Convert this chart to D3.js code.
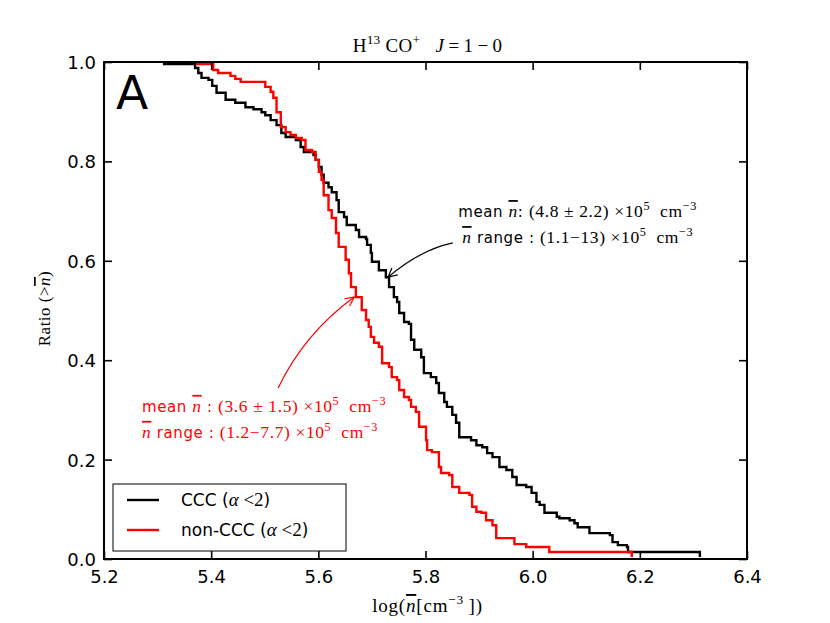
<!DOCTYPE html>
<html>
<head>
<meta charset="utf-8">
<script src="https://cdn.jsdelivr.net/npm/d3@7"></script>
<style>
  body { margin: 0; background: #fff; }
  svg { display: block; }
</style>
</head>
<body>
<div id="chart"></div>
<script>
// step vertices: log(n) where the curve drops, ratio after the drop
const cccX = [5.310, 5.370, 5.376, 5.382, 5.395, 5.402, 5.410, 5.427, 5.445, 5.464, 5.479, 5.494, 5.501, 5.511, 5.522,
    5.531, 5.539, 5.558, 5.567, 5.573, 5.591, 5.595, 5.601, 5.606, 5.610, 5.619, 5.625, 5.634, 5.638, 5.648, 5.653,
    5.670, 5.676, 5.689, 5.691, 5.698, 5.700, 5.713, 5.726, 5.732, 5.741, 5.747, 5.751, 5.760, 5.769, 5.773, 5.779,
    5.792, 5.797, 5.810, 5.820, 5.825, 5.835, 5.840, 5.850, 5.857, 5.863, 5.885, 5.895, 5.906, 5.915, 5.925, 5.938,
    5.951, 5.962, 5.970, 5.988, 5.998, 6.007, 6.013, 6.022, 6.045, 6.050, 6.069, 6.078, 6.084, 6.106, 6.144, 6.149,
    6.159, 6.176, 6.178, 6.312];
const cccY = [0.996, 0.988, 0.978, 0.968, 0.964, 0.952, 0.938, 0.924, 0.918, 0.909, 0.905, 0.899, 0.893, 0.883, 0.873,
    0.857, 0.849, 0.843, 0.829, 0.819, 0.813, 0.803, 0.789, 0.773, 0.757, 0.748, 0.738, 0.722, 0.698, 0.688, 0.672,
    0.662, 0.648, 0.644, 0.632, 0.616, 0.598, 0.581, 0.567, 0.547, 0.527, 0.517, 0.495, 0.477, 0.473, 0.441, 0.421,
    0.406, 0.374, 0.366, 0.354, 0.334, 0.316, 0.306, 0.290, 0.274, 0.245, 0.239, 0.229, 0.225, 0.213, 0.205, 0.185,
    0.179, 0.165, 0.149, 0.145, 0.133, 0.115, 0.109, 0.093, 0.085, 0.082, 0.078, 0.072, 0.064, 0.052, 0.048, 0.034,
    0.028, 0.024, 0.014, 0.004];

const nonX = [5.372, 5.404, 5.413, 5.436, 5.445, 5.455, 5.501, 5.511, 5.516, 5.522, 5.530, 5.539, 5.548, 5.558, 5.569,
    5.576, 5.588, 5.595, 5.601, 5.606, 5.610, 5.619, 5.625, 5.633, 5.638, 5.651, 5.657, 5.661, 5.670, 5.681, 5.689,
    5.694, 5.698, 5.704, 5.713, 5.719, 5.732, 5.737, 5.747, 5.751, 5.760, 5.769, 5.773, 5.782, 5.788, 5.801, 5.803,
    5.812, 5.825, 5.829, 5.844, 5.850, 5.863, 5.882, 5.887, 5.895, 5.904, 5.913, 5.925, 5.932, 5.966, 5.988, 6.031,
    6.185];
const nonY = [0.996, 0.984, 0.978, 0.972, 0.966, 0.960, 0.950, 0.940, 0.928, 0.899, 0.869, 0.859, 0.853, 0.847, 0.843,
    0.823, 0.819, 0.803, 0.779, 0.763, 0.732, 0.702, 0.686, 0.656, 0.628, 0.602, 0.575, 0.547, 0.527, 0.501, 0.481,
    0.467, 0.447, 0.435, 0.427, 0.394, 0.386, 0.366, 0.360, 0.340, 0.326, 0.320, 0.306, 0.296, 0.266, 0.239, 0.219,
    0.215, 0.185, 0.173, 0.169, 0.145, 0.133, 0.129, 0.105, 0.095, 0.093, 0.078, 0.068, 0.042, 0.030, 0.024, 0.014,
    0.004];

const xTicks = [5.2, 5.4, 5.6, 5.8, 6.0, 6.2, 6.4];
const yTicks = [0.0, 0.2, 0.4, 0.6, 0.8, 1.0];
const legendLabels = ["CCC", "non-CCC"];
const colors = ["#000000", "#ff0000"];

const W = 830, H = 623;
const margin = {top: 62, right: 83, bottom: 64, left: 104};
const width = W - margin.left - margin.right;
const height = H - margin.top - margin.bottom;

const SANS = "'DejaVu Sans', sans-serif";
const SERIF = "'Liberation Serif', 'DejaVu Serif', serif";

const svg = d3.select("#chart").append("svg")
    .attr("width", W)
    .attr("height", H);

const defs = svg.append("defs");
colors.forEach(function (c, i) {
    defs.append("marker")
        .attr("id", "arrow" + i)
        .attr("viewBox", "-10 -6 12 12")
        .attr("refX", 0).attr("refY", 0)
        .attr("markerWidth", 12).attr("markerHeight", 12)
        .attr("markerUnits", "userSpaceOnUse")
        .attr("orient", "auto")
        .append("path")
        .attr("d", "M-9,-4.5 L0,0 L-9,4.5")
        .attr("fill", "none")
        .attr("stroke", c)
        .attr("stroke-width", 1.2);
});

const g = svg.append("g")
    .attr("transform", "translate(" + margin.left + "," + margin.top + ")");

const x = d3.scaleLinear().domain([5.2, 6.4]).range([0, width]);
const y = d3.scaleLinear().domain([0, 1]).range([height, 0]);

// rich text: parts = [text, opts] ; opts: serif, it, sup, ol
// serif (math) parts get a slightly larger size, like mathtext does
function richText(sel, parts, size, mathSize) {
    let shift = 0;
    mathSize = mathSize || size;
    sel.style("white-space", "pre");
    parts.forEach(function (p) {
        const o = p[1] || {};
        const base = o.serif ? mathSize : size;
        const t = sel.append("tspan").text(p[0]);
        t.style("font-family", o.serif ? SERIF : SANS)
            .style("font-size", (o.sup ? base * 0.7 : base) + "px");
        if (o.it) t.style("font-style", "italic");
        if (o.ol) t.style("text-decoration", "overline");
        const want = o.sup ? -base * 0.42 : 0;
        if (want !== shift) {
            t.attr("dy", want - shift);
            shift = want;
        }
    });
}

// step curves
const line = d3.line()
    .x(d => x(d[0]))
    .y(d => y(d[1]))
    .curve(d3.curveStepAfter);

const series = [d3.zip(cccX, cccY), d3.zip(nonX, nonY)];
series.forEach(function (s, i) {
    g.append("path")
        .datum(s)
        .attr("fill", "none")
        .attr("stroke", colors[i])
        .attr("stroke-width", 2.4)
        .attr("d", line);
});

// axes with inward ticks on all sides
g.append("g")
    .attr("transform", "translate(0," + height + ")")
    .call(d3.axisBottom(x).tickValues(xTicks).tickFormat(d3.format(".1f"))
        .tickSizeInner(-8).tickSizeOuter(0).tickPadding(11));
g.append("g")
    .call(d3.axisTop(x).tickValues(xTicks).tickFormat("").tickSizeInner(-8).tickSizeOuter(0));
const yAxis = g.append("g")
    .call(d3.axisLeft(y).tickValues(yTicks).tickFormat(d3.format(".1f"))
        .tickSizeInner(-8).tickSizeOuter(0).tickPadding(8));
g.append("g")
    .attr("transform", "translate(" + width + ",0)")
    .call(d3.axisRight(y).tickValues(yTicks).tickFormat("").tickSizeInner(-8).tickSizeOuter(0));

g.selectAll(".domain").remove();
g.selectAll(".tick line").attr("stroke", "#000").attr("stroke-width", 1.6);
g.selectAll(".tick text")
    .style("font-family", SANS)
    .style("font-size", "18px")
    .attr("fill", "#000");
yAxis.selectAll(".tick text").attr("dy", "0.36em");

g.append("rect")
    .attr("width", width)
    .attr("height", height)
    .attr("fill", "none")
    .attr("stroke", "#000")
    .attr("stroke-width", 2);

// panel letter
g.append("text")
    .attr("x", 12)
    .attr("y", 47)
    .style("font-family", SANS)
    .style("font-size", "47px")
    .text("A");

// title
const title = svg.append("text")
    .attr("x", margin.left + width / 2 + 2)
    .attr("y", 52)
    .attr("text-anchor", "middle")
    .style("letter-spacing", "0.3px");
richText(title, [["H", {serif: 1}], ["13", {serif: 1, sup: 1}], [" CO", {serif: 1}], ["+", {serif: 1, sup: 1}],
    ["   ", {serif: 1}], ["J", {serif: 1, it: 1}], ["\u2009=\u20091\u2009−\u20090", {serif: 1}]], 19);

// axis labels
const xl = svg.append("text")
    .attr("x", margin.left + width / 2 + 2)
    .attr("y", 612)
    .attr("text-anchor", "middle")
    .style("letter-spacing", "0.8px");
richText(xl, [["log(", {serif: 1}], ["n", {serif: 1, it: 1, ol: 1}], ["[cm", {serif: 1}],
    ["−3", {serif: 1, sup: 1}], ["\u2009])", {serif: 1}]], 19);

const yl = svg.append("text")
    .attr("transform", "translate(50," + (margin.top + height / 2 - 2) + ") rotate(-90)")
    .attr("text-anchor", "middle")
    .style("letter-spacing", "0.5px");
richText(yl, [["Ratio (>", {serif: 1}], ["n", {serif: 1, it: 1, ol: 1}], [")", {serif: 1}]], 17);

// annotations
const notes = [
    {color: colors[0], tx: 5.861, ty: 0.688, ax: 5.73, ay: 0.567, sx: 5.851, sy: 0.636, cx: 5.79, cy: 0.622,
        lines: [
            [["mean ", {}], ["n", {serif: 1, it: 1, ol: 1}], [": ", {}], ["(4.8 ± 2.2) ×10", {serif: 1}],
                ["5", {serif: 1, sup: 1}], ["  cm", {serif: 1}], ["−3", {serif: 1, sup: 1}]],
            [["n", {serif: 1, it: 1, ol: 1}], [" range : ", {}], ["(1.1−13) ×10", {serif: 1}],
                ["5", {serif: 1, sup: 1}], ["  cm", {serif: 1}], ["−3", {serif: 1, sup: 1}]]
        ]},
    {color: colors[1], tx: 5.271, ty: 0.296, ax: 5.667, ay: 0.527, sx: 5.525, sy: 0.344, cx: 5.574, cy: 0.454,
        lines: [
            [["mean ", {}], ["n", {serif: 1, it: 1, ol: 1}], [" : ", {}], ["(3.6 ± 1.5) ×10", {serif: 1}],
                ["5", {serif: 1, sup: 1}], ["  cm", {serif: 1}], ["−3", {serif: 1, sup: 1}]],
            [["n", {serif: 1, it: 1, ol: 1}], [" range : ", {}], ["(1.2−7.7) ×10", {serif: 1}],
                ["5", {serif: 1, sup: 1}], ["  cm", {serif: 1}], ["−3", {serif: 1, sup: 1}]]
        ]}
];

notes.forEach(function (n, i) {
    n.lines.forEach(function (ln, j) {
        const t = g.append("text")
            .attr("x", x(n.tx) + (i === 0 && j === 1 ? 4 : 0))
            .attr("y", y(n.ty) + j * 26)
            .attr("fill", n.color)
            .style("letter-spacing", "0.6px");
        richText(t, ln, 15, 17.5);
    });
    g.append("path")
        .attr("d", "M" + x(n.sx) + "," + y(n.sy) + " Q" + x(n.cx) + "," + y(n.cy) + " " + x(n.ax) + "," + y(n.ay))
        .attr("fill", "none")
        .attr("stroke", n.color)
        .attr("stroke-width", 1.2)
        .attr("marker-end", "url(#arrow" + i + ")");
});

// legend
const leg = g.append("g").attr("transform", "translate(9," + (height - 75) + ")");
leg.append("rect")
    .attr("width", 233)
    .attr("height", 67)
    .attr("fill", "#fff")
    .attr("stroke", "#000")
    .attr("stroke-width", 1);
legendLabels.forEach(function (lab, i) {
    const row = leg.append("g").attr("transform", "translate(0," + (16 + i * 30) + ")");
    row.append("line")
        .attr("x1", 14).attr("x2", 46)
        .attr("stroke", colors[i]).attr("stroke-width", 2.4);
    const t = row.append("text")
        .attr("x", 68)
        .attr("y", 6);
    richText(t, [[lab + " (", {}], ["α", {serif: 1, it: 1}], [" <2", {serif: 1}], [")", {}]], 17, 19);
});
</script>
</body>
</html>
